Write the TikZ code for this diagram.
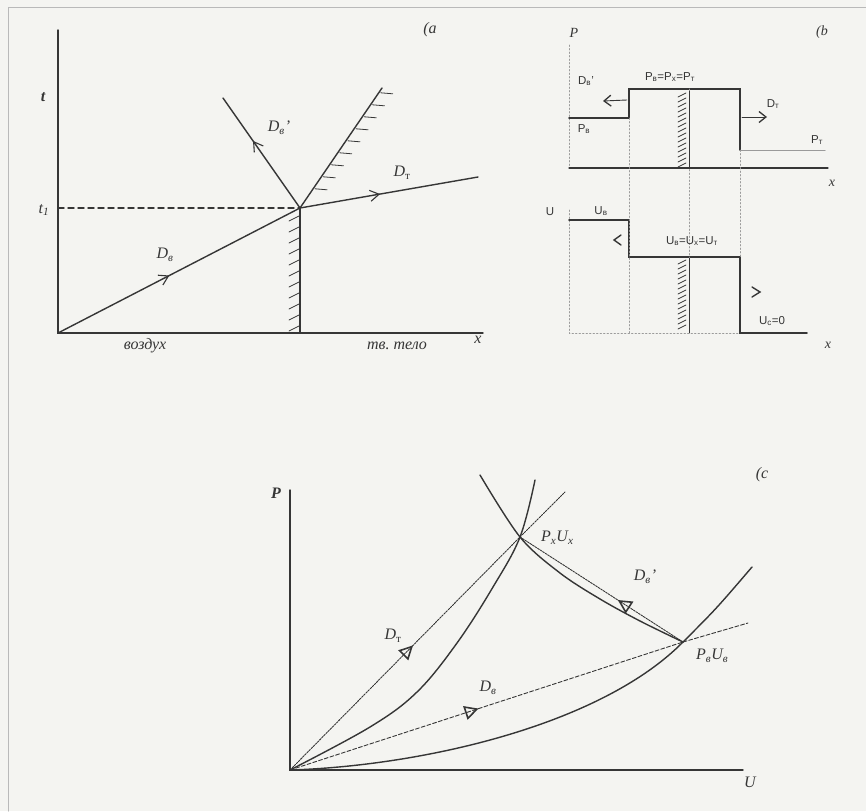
\documentclass[tikz,border=0pt]{standalone}
\usepackage{fontspec}
\setmainfont{Liberation Serif}
\newfontfamily\bsans{Liberation Sans}
\usetikzlibrary{arrows.meta,decorations.markings,calc}
\definecolor{paper}{HTML}{F4F4F1}
\definecolor{inkc}{HTML}{363636}
\definecolor{faint}{HTML}{9A9A9A}
\newcommand{\sbs}[1]{\textsubscript{#1}}
\newcommand{\sbu}[1]{\textsubscript{\upshape #1}}
\tikzset{
  ink/.style={draw=inkc, line width=1.4pt},
  thinink/.style={draw=inkc, line width=0.9pt},
  hatch/.style={draw=inkc, line width=0.8pt},
  faintline/.style={draw=faint, line width=0.7pt, dash pattern=on 1.5pt off 2pt},
  lbl/.style={text=inkc, inner sep=0pt, font=\fontsize{16}{18}\selectfont\itshape},
  blbl/.style={text=inkc, inner sep=0pt, font=\fontsize{11.5}{13}\selectfont\bsans},
  midbarb/.style={postaction={decorate}, decoration={markings, mark=at position #1 with {\arrow{Straight Barb[length=9pt,width=11pt,line width=1.1pt]}}}},
  midtri/.style={postaction={decorate}, decoration={markings, mark=at position #1 with {\arrow[line width=1.6pt]{Triangle[open,length=14pt,width=14pt]}}}}
}
\begin{document}
\begin{tikzpicture}[x=1pt,y=-1pt,line cap=round]
\fill[paper] (0,0) rectangle (866,811);
\useasboundingbox (0,0) rectangle (866,811);
\draw[gray!55, line width=1pt] (8,811) -- (8,7) -- (866,7);

% ================= panel a =================
\coordinate (aO) at (58,333);
\coordinate (aTop) at (58,30);
\coordinate (aXend) at (483,333);
\coordinate (aP) at (300,208);
\coordinate (aT1) at (58,208);
\coordinate (aDt) at (478,177);
\coordinate (aDb) at (223,98);
\coordinate (aW) at (382,88);
\coordinate (aBot) at (300,333);
\draw[ink] (aTop) -- (aO) -- (aXend);
\draw[ink, dash pattern=on 6pt off 4pt] (aT1) -- (aP);
\draw[ink, midbarb=0.46] (aO) -- (aP);
\draw[ink, midbarb=0.45] (aP) -- (aDt);
\draw[ink, midbarb=0.61] (aP) -- (aDb);
\draw[ink] (aP) -- (aW);
\draw[ink] (aP) -- (aBot);
\foreach \t in {0.16,0.26,0.36,0.46,0.56,0.66,0.76,0.86,0.96}
  \draw[hatch] ($(aP)!\t!(aW)$) ++(2,0) -- ++(12,1);
\foreach \y in {216,227,238,249,260,271,282,293,304,315,326}
  \draw[hatch] (289,\y+5) -- (299,\y);
\node[lbl] (at) at (43,97) {\bfseries t};
\node[lbl] (at1) at (44,210) {t\sbs{1}};
\node[lbl] (alab) at (430,30) {(a};
\node[lbl] (aDBl) at (165,255) {D\sbs{в}};
\node[lbl] (aDTl) at (402,173) {D\sbu{т}};
\node[lbl] (aDBpl) at (279,128) {D\sbs{в}’};
\node[lbl] (air) at (145,346) {воздух};
\node[lbl] (solid) at (397,346) {тв.\ тело};
\node[lbl] (ax) at (478,340) {x};

% ================= panel b =================
\coordinate (bPax) at (569,45);
\coordinate (bPaxB) at (569,168);
\coordinate (bPxend) at (828,168);
\draw[faintline] (bPax) -- (bPaxB);
\draw[thinink, line width=1.2pt] (bPaxB) -- (bPxend);
\coordinate (b1) at (569,118);
\coordinate (b2) at (629,118);
\coordinate (b3) at (629,89);
\coordinate (b4) at (740,89);
\coordinate (b5) at (740,150);
\coordinate (b6) at (825,150);
\draw[ink, line width=1.6pt, line join=miter] (b1) -- (b2) -- (b3) -- (b4) -- (b5);
\draw[draw=faint, line width=1pt] (b5) -- (b6);
% U panel
\coordinate (bUax) at (569,210);
\coordinate (bUaxB) at (569,333);
\coordinate (u1) at (569,220);
\coordinate (u2) at (629,220);
\coordinate (u3) at (629,257);
\coordinate (u4) at (740,257);
\coordinate (u5) at (740,333);
\coordinate (u6) at (807,333);
\draw[faintline] (bUax) -- (bUaxB) -- (u5);
\draw[ink, line width=1.6pt, line join=miter] (u1) -- (u2) -- (u3) -- (u4) -- (u5) -- (u6);
% dotted verticals
\draw[faintline] (b2) -- (629,333);
\draw[faintline] (b5) -- (u4);
\draw[faintline] (689,89) -- (689,333);
\draw[thinink] (689,91) -- (689,168);
\draw[thinink] (689,258) -- (689,333);
\foreach \y in {93,98,...,163}
  \draw[hatch] (678,\y+4) -- (686,\y);
\foreach \y in {260,265,...,328}
  \draw[hatch] (678,\y+4) -- (686,\y);
% arrows
\coordinate (bA1s) at (627,100);
\coordinate (bA1e) at (603,101);
\draw[thinink, -{Straight Barb[length=7pt,width=11pt,line width=1.3pt]}] (bA1s) -- (bA1e);
\coordinate (bA2s) at (742,117);
\coordinate (bA2e) at (767,117);
\draw[thinink, -{Straight Barb[length=7pt,width=11pt,line width=1.3pt]}] (bA2s) -- (bA2e);
\draw[ink] (621,235) -- (614,240) -- (621,245);
\draw[ink] (752,287) -- (760,292) -- (752,297);
% labels
\node[lbl, font=\fontsize{14}{16}\selectfont\itshape] (bP) at (574,33) {P};
\node[lbl, font=\fontsize{14}{16}\selectfont\itshape] (blab) at (822,32) {(b};
\node[lbl, font=\fontsize{14}{16}\selectfont\itshape] (bx1) at (832,183) {x};
\node[lbl, font=\fontsize{14}{16}\selectfont\itshape] (bx2) at (828,345) {x};
\node[blbl] (bU) at (550,212) {U};
\node[blbl] (bPeq) at (670,77) {P\sbs{в}=P\sbs{x}=P\sbs{т}};
\node[blbl] (bDb) at (586,81) {D\sbs{в}’};
\node[blbl] (bPb) at (584,129) {P\sbs{в}};
\node[blbl] (bDt) at (773,104) {D\sbs{т}};
\node[blbl] (bPt) at (817,140) {P\sbs{т}};
\node[blbl] (bUb) at (601,211) {U\sbs{в}};
\node[blbl] (bUeq) at (692,241) {U\sbs{в}=U\sbs{x}=U\sbs{т}};
\node[blbl] (bU0) at (772,321) {U\sbs{с}=0};

% ================= panel c =================
\coordinate (cO) at (290,770);
\coordinate (cTop) at (290,490);
\coordinate (cXend) at (743,770);
\coordinate (cPx) at (520,537);
\coordinate (cPb) at (683,642);
\coordinate (cDtEnd) at (565,492);
\coordinate (cDbEnd) at (748,623);
\draw[ink] (cTop) -- (cO) -- (cXend);
% Hugoniot curves
\draw[ink] plot[smooth, tension=0.6] coordinates {(290,770) (370,727) (417,692) (457,643) (493,587) (520,537) (535,480)};
\draw[ink] plot[smooth, tension=0.55] coordinates {(480,475) (520,537) (560,573) (600,599) (640,621) (683,642)};
\draw[ink] (cO) .. controls (420,766) and (600,726) .. (cPb) .. controls (716,609) .. (752,567);
% rays
\draw[thinink, dash pattern=on 2pt off 1pt, midtri=0.535] (cO) -- (cPx);
\draw[thinink, dash pattern=on 2pt off 1pt] (cPx) -- (cDtEnd);
\draw[thinink, dash pattern=on 4pt off 2pt, midtri=0.48] (cO) -- (cPb);
\draw[thinink, dash pattern=on 4pt off 2pt] (cPb) -- (cDbEnd);
\draw[thinink, dash pattern=on 2pt off 1pt, midtri=0.4] (cPb) -- (cPx);
% labels
\node[lbl] (cP) at (276,493) {\bfseries P};
\node[lbl] (cU) at (750,782) {U};
\node[lbl] (clab) at (762,475) {(c};
\node[lbl, anchor=west] (cPxl) at (541,538) {P\sbs{x}U\sbs{x}};
\node[lbl, anchor=west] (cPbl) at (696,656) {P\sbs{в}U\sbs{в}};
\node[lbl] (cDt) at (393,636) {D\sbu{т}};
\node[lbl] (cDb) at (488,688) {D\sbs{в}};
\node[lbl] (cDbp) at (645,577) {D\sbs{в}’};
\end{tikzpicture}
\end{document}
